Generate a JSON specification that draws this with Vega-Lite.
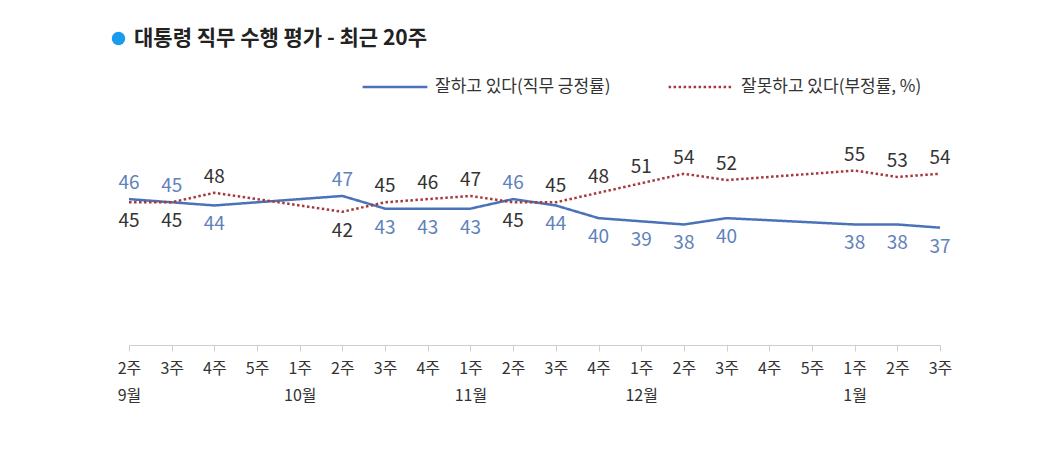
{
  "$schema": "https://vega.github.io/schema/vega-lite/v6.json",
  "autosize": "none",
  "width": 811,
  "height": 222,
  "padding": {"left": 129, "top": 123, "right": 112, "bottom": 107},
  "background": "white",
  "config": {
    "font": "Noto Sans CJK KR",
    "view": {"stroke": null}
  },
  "data": {
    "values": [
      {"w": "9월 2주", "pos": 46, "neg": 45},
      {"w": "9월 3주", "pos": 45, "neg": 45},
      {"w": "9월 4주", "pos": 44, "neg": 48},
      {"w": "10월 2주", "pos": 47, "neg": 42},
      {"w": "10월 3주", "pos": 43, "neg": 45},
      {"w": "10월 4주", "pos": 43, "neg": 46},
      {"w": "11월 1주", "pos": 43, "neg": 47},
      {"w": "11월 2주", "pos": 46, "neg": 45},
      {"w": "11월 3주", "pos": 44, "neg": 45},
      {"w": "11월 4주", "pos": 40, "neg": 48},
      {"w": "12월 1주", "pos": 39, "neg": 51},
      {"w": "12월 2주", "pos": 38, "neg": 54},
      {"w": "12월 3주", "pos": 40, "neg": 52},
      {"w": "1월 1주", "pos": 38, "neg": 55},
      {"w": "1월 2주", "pos": 38, "neg": 53},
      {"w": "1월 3주", "pos": 37, "neg": 54}
    ]
  },
  "transform": [
    {"calculate": "datum.pos >= datum.neg ? 'pos' : 'neg'", "as": "hi"},
    {"fold": ["pos", "neg"], "as": ["key", "value"]},
    {"calculate": "datum.key == datum.hi", "as": "above"}
  ],
  "encoding": {
    "x": {
      "field": "w",
      "type": "ordinal",
      "scale": {
        "type": "point",
        "padding": 0,
        "domain": ["9월 2주", "9월 3주", "9월 4주", "9월 5주", "10월 1주", "10월 2주", "10월 3주", "10월 4주", "11월 1주", "11월 2주", "11월 3주", "11월 4주", "12월 1주", "12월 2주", "12월 3주", "12월 4주", "12월 5주", "1월 1주", "1월 2주", "1월 3주"]
      },
      "axis": {
        "title": null,
        "labelAngle": 0,
        "labelFontSize": 16,
        "labelColor": "#333",
        "labelPadding": 9,
        "labelLineHeight": 27,
        "labelBaseline": "top",
        "tickSize": 6,
        "tickColor": "#cfcfcf",
        "domainColor": "#cfcfcf",
        "labelExpr": "(indexof(datum.value, ' 1주') > 0 || datum.value == '9월 2주') ? [split(datum.value, ' ')[1], split(datum.value, ' ')[0]] : split(datum.value, ' ')[1]"
      }
    },
    "y": {
      "field": "value",
      "type": "quantitative",
      "scale": {"domain": [0, 70]},
      "axis": null
    }
  },
  "layer": [
    {
      "mark": {"type": "line", "strokeWidth": 2.5},
      "encoding": {
        "color": {
          "field": "key",
          "type": "nominal",
          "scale": {"domain": ["pos", "neg"], "range": ["#4a72b8", "#a6393c"]},
          "legend": {
            "orient": "none",
            "direction": "horizontal",
            "legendX": 232,
            "legendY": -70,
            "title": null,
            "symbolType": "stroke",
            "symbolSize": 4200,
            "symbolStrokeWidth": 2.5,
            "labelFontSize": 17,
            "labelColor": "#333",
            "labelLimit": 400,
            "labelOffset": 6,
            "columnPadding": 52,
            "labelExpr": "datum.label == 'pos' ? '잘하고 있다(직무 긍정률)' : '잘못하고 있다(부정률, %)'"
          }
        },
        "strokeDash": {
          "field": "key",
          "type": "nominal",
          "scale": {"domain": ["pos", "neg"], "range": [[1, 0], [2.5, 2.5]]},
          "legend": null
        }
      }
    },
    {
      "transform": [{"filter": "datum.above"}],
      "mark": {"type": "text", "dy": -16, "fontSize": 19},
      "encoding": {
        "text": {"field": "value", "type": "quantitative"},
        "color": {"condition": {"test": "datum.key == 'pos'", "value": "#5f82bb"}, "value": "#333"}
      }
    },
    {
      "transform": [{"filter": "!datum.above"}],
      "mark": {"type": "text", "dy": 19, "fontSize": 19},
      "encoding": {
        "text": {"field": "value", "type": "quantitative"},
        "color": {"condition": {"test": "datum.key == 'pos'", "value": "#5f82bb"}, "value": "#333"}
      }
    },
    {
      "transform": [{"filter": "false"}],
      "mark": {"type": "point", "filled": true, "color": "#1a9cec", "opacity": 1},
      "encoding": {
        "shape": {
          "datum": "대통령 직무 수행 평가 - 최근 20주",
          "type": "nominal",
          "scale": {"range": ["circle"]},
          "legend": {
            "orient": "none",
            "legendX": -21,
            "legendY": -95,
            "title": null,
            "symbolSize": 180,
            "symbolOpacity": 1,
            "symbolFillColor": "#1a9cec",
            "symbolStrokeColor": "#1a9cec",
            "labelOffset": 5,
            "labelFontSize": 21,
            "labelFontWeight": "bold",
            "labelColor": "#222",
            "labelLimit": 500
          }
        }
      }
    }
  ]
}
